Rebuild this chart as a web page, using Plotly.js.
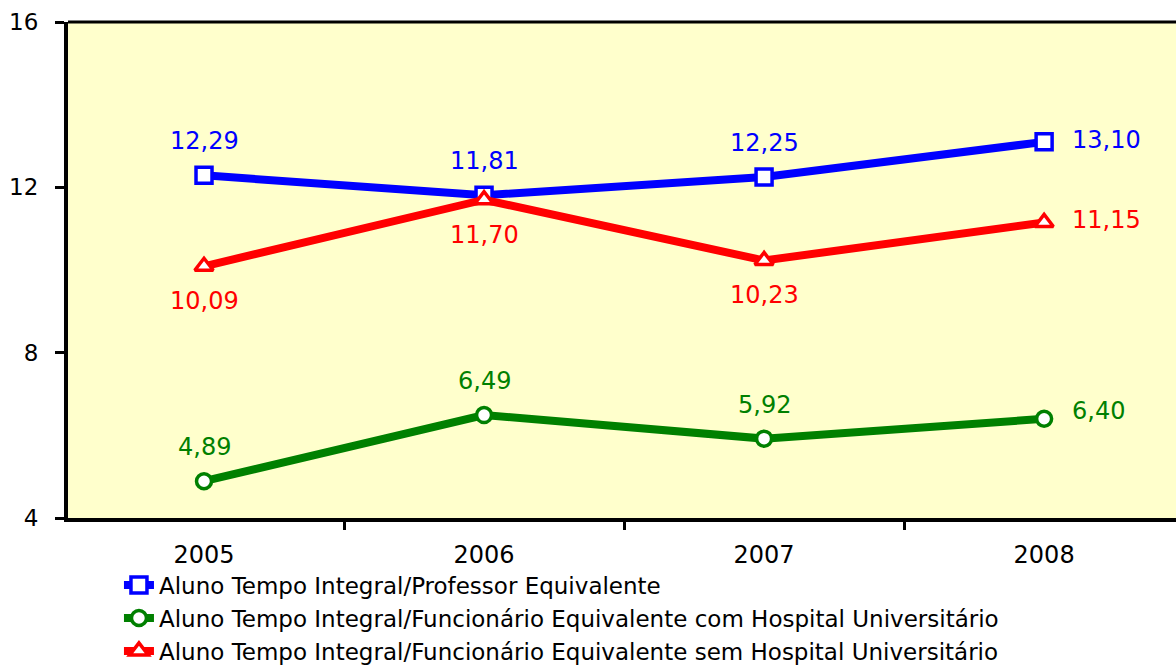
<!DOCTYPE html>
<html>
<head>
<meta charset="utf-8">
<script src="https://cdn.plot.ly/plotly-3.0.1.min.js"></script>
<style>html,body{margin:0;padding:0;overflow:hidden;background:#fff}#wrap{width:1176px;height:668px;overflow:hidden}</style>
</head>
<body>
<div id="wrap"><div id="chart"></div></div>
<script>
var years = ['2005', '2006', '2007', '2008'];
var seriesNames = [
  'Aluno Tempo Integral/Professor Equivalente',
  'Aluno Tempo Integral/Funcionário Equivalente com Hospital Universitário',
  'Aluno Tempo Integral/Funcionário Equivalente sem Hospital Universitário'
];
var professor = [12.29, 11.81, 12.25, 13.10];
var comHU = [4.89, 6.49, 5.92, 6.40];
var semHU = [10.09, 11.70, 10.23, 11.15];
var yTicks = [4, 8, 12, 16];

var font = 'DejaVu Sans, Verdana, sans-serif';
var colors = ['#0000FF', '#008000', '#FF0000'];
var symbols = ['square', 'circle', 'triangle-up'];
var values = [professor, comHU, semHU];
// label placement per series & point
var placement = [
  ['above', 'above', 'above', 'right'],
  ['above', 'above', 'above', 'right'],
  ['below', 'below', 'below', 'right']
];

function fmt(v) { return v.toFixed(2).replace('.', ','); }

var traces = values.map(function (vals, i) {
  return {
    x: years, y: vals, name: seriesNames[i], type: 'scatter', mode: 'lines+markers',
    legendgroup: 'g' + i,
    line: { color: colors[i], width: 8 },
    marker: { symbol: symbols[i], size: i === 1 ? 15 : 16, color: '#FFFFFF',
      line: { color: colors[i], width: 3.5 } },
    cliponaxis: false
  };
});

var annotations = [];
values.forEach(function (vals, i) {
  vals.forEach(function (v, j) {
    var p = placement[i][j];
    var a = { x: j, y: v, xref: 'x', yref: 'y', text: fmt(v), showarrow: false,
      font: { family: font, size: 24, color: colors[i] } };
    if (p === 'above') { a.yshift = 34; }
    else if (p === 'below') { a.yshift = -35; }
    else { a.xanchor = 'left'; a.xshift = 26; a.yshift = (i === 1 ? 8 : 2); }
    annotations.push(a);
  });
});

var layout = {
  width: 1176, height: 690,
  margin: { l: 68, r: 0, t: 22, b: 172 },
  paper_bgcolor: '#FFFFFF', plot_bgcolor: '#FFFFCC',
  showlegend: true,
  legend: { x: 0.046, y: -0.092, xanchor: 'left', yanchor: 'top',
    font: { family: font, size: 23, color: '#000' }, bgcolor: 'rgba(0,0,0,0)',
    tracegroupgap: 3, traceorder: 'normal' },
  xaxis: { type: 'category', range: [-0.4857, 3.471], showgrid: false, zeroline: false,
    showline: true, linewidth: 4, linecolor: '#000',
    ticks: 'outside', tickson: 'boundaries', ticklen: 8, tickwidth: 3, tickcolor: '#000',
    ticklabelstandoff: 12,
    tickfont: { family: font, size: 24, color: '#000' } },
  yaxis: { range: [4, 16], tickvals: yTicks, ticktext: yTicks.map(String), showgrid: false, zeroline: false,
    showline: true, linewidth: 4, linecolor: '#000',
    ticks: 'outside', ticklen: 9, tickwidth: 3, tickcolor: '#000',
    ticklabelstandoff: 12,
    tickfont: { family: font, size: 23, color: '#000' } },
  shapes: [{ type: 'line', xref: 'paper', yref: 'paper', x0: 0, x1: 1, y0: 1, y1: 1,
    line: { color: '#000', width: 3 } }],
  annotations: annotations
};

Plotly.newPlot('chart', traces, layout, { displayModeBar: false, staticPlot: true });
</script>
</body>
</html>
